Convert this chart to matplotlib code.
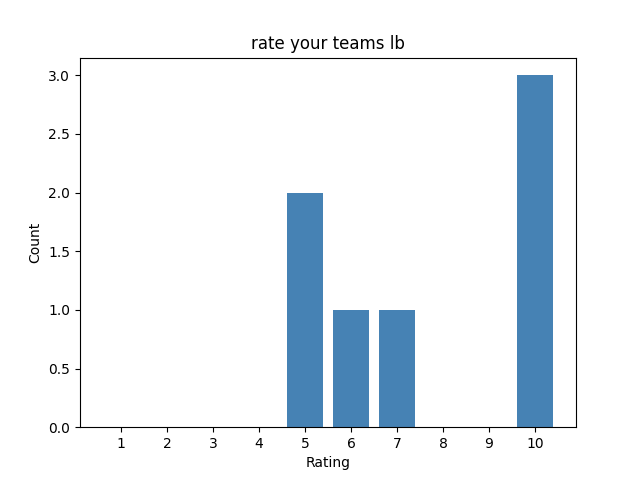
import matplotlib
matplotlib.use('Agg')
import matplotlib.pyplot as plt

# Données
ratings = [1, 2, 3, 4, 5, 6, 7, 8, 9, 10]
counts = [0, 0, 0, 0, 2, 1, 1, 0, 0, 3]

plt.figure(figsize=(6.4, 4.8), dpi=100)
plt.bar(ratings, counts, color='steelblue')
plt.xticks(ratings)
plt.xlabel('Rating')
plt.ylabel('Count')
plt.title('rate your teams lb')
plt.savefig('out.png')
